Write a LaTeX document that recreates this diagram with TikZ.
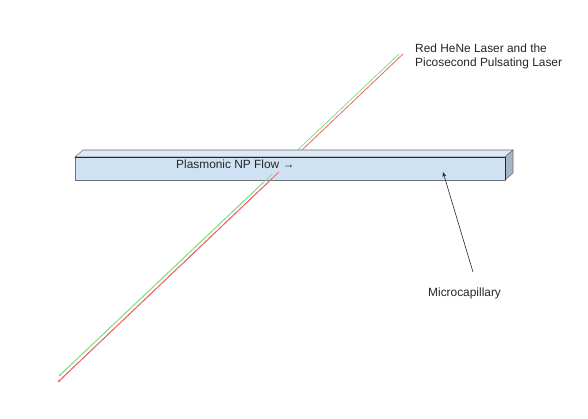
\documentclass[tikz,border=0pt]{standalone}
\usepackage{fontspec}
\setmainfont{Liberation Sans}
\usetikzlibrary{arrows.meta,calc}
\definecolor{frontblue}{HTML}{CFE2F3}
\definecolor{topblue}{HTML}{DDE9F5}
\definecolor{sideblue}{HTML}{A6B5C3}
\definecolor{edgegray}{HTML}{6F7378}
\definecolor{lasergreen}{HTML}{86E086}
\definecolor{laserred}{HTML}{EC6668}
\tikzset{
    label text/.style={font=\fontsize{11.9}{14}\selectfont,text=black!85,inner sep=0pt},
    laser green/.style={draw=lasergreen,line width=0.8pt},
    laser red/.style={draw=laserred,line width=0.8pt},
    laser tip/.style={-{Stealth[length=3pt,width=3pt]}},
}
\begin{document}
\begin{tikzpicture}[x=1pt,y=-1pt]
    \useasboundingbox (0,0) rectangle (588,419);
    \fill[white] (0,0) rectangle (588,419);
    \coordinate (greentop) at (399,54);
    \coordinate (greenend) at (59,376);
    \coordinate (redtop) at (403,54);
    \coordinate (redend) at (58,382);
    % beams behind the capillary
    \draw[laser green] (greentop) -- (greenend);
    \draw[laser red] (redtop) -- (redend);
    % capillary
    \coordinate (frontnw) at (75,157);
    \coordinate (frontne) at (505,157);
    \coordinate (frontse) at (505,180);
    \coordinate (frontsw) at (75,180);
    \coordinate (backnw) at (83,150);
    \coordinate (backne) at (513,150);
    \coordinate (backse) at (513,173);
    \filldraw[fill=topblue,draw=edgegray,line width=0.6pt] (frontnw) -- (backnw) -- (backne) -- (frontne) -- cycle;
    \filldraw[fill=sideblue,draw=edgegray,line width=0.6pt] (frontne) -- (backne) -- (backse) -- (frontse) -- cycle;
    \filldraw[fill=frontblue,draw=edgegray,line width=0.6pt] (frontnw) -- (frontne) -- (frontse) -- (frontsw) -- cycle;
    \draw[black!85,line width=0.6pt] (frontnw) -- (frontne) -- (frontse);
    % beams in front again near the lower edge
    \draw[laser green,laser tip] ($(greentop)!0.3727!(greenend)$) -- (greenend);
    \draw[laser red,laser tip] ($(redtop)!0.36!(redend)$) -- (redend);
    \node[label text,anchor=west] (flowlabel) at (176,164.5) {Plasmonic NP Flow →};
    \node[label text,anchor=west,align=left] (laserlabel) at (415,56.5) {Red HeNe Laser and the\\Picosecond Pulsating Laser};
    \node[label text,anchor=west] (capillarylabel) at (428,293.5) {Microcapillary};
    \coordinate (arrowstart) at (473,272);
    \coordinate (arrowend) at (443,172);
    \draw[black!85,line width=0.6pt,-{Stealth[length=5pt,width=4pt]}] (arrowstart) -- (arrowend);
\end{tikzpicture}
\end{document}
